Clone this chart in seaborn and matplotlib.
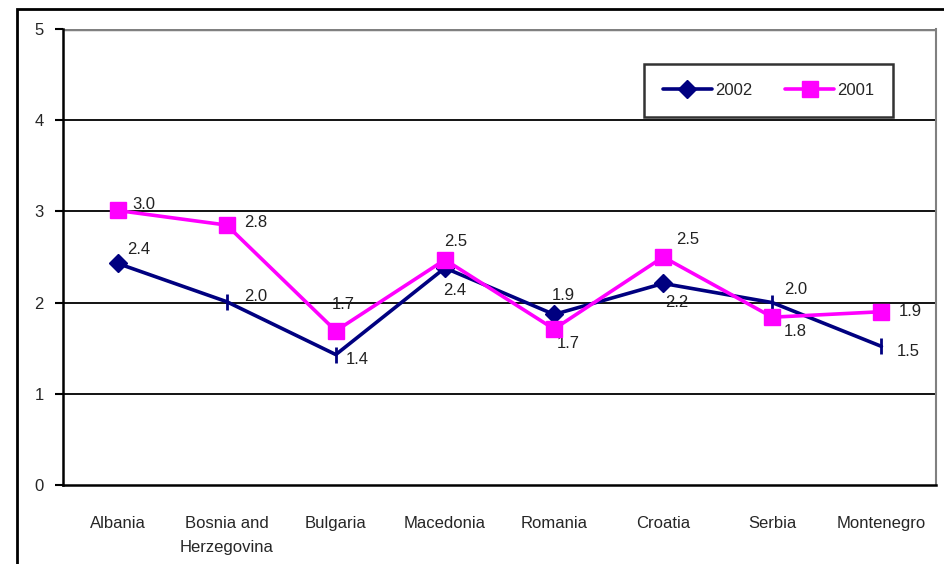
import matplotlib
matplotlib.use("Agg")
import matplotlib.pyplot as plt
from matplotlib.lines import Line2D
from matplotlib.patches import Rectangle
import numpy as np
import pandas as pd
import seaborn as sns

countries = ["Albania", "Bosnia and\nHerzegovina", "Bulgaria", "Macedonia",
             "Romania", "Croatia", "Serbia", "Montenegro"]
vals_2002 = [2.43, 2.01, 1.43, 2.38, 1.87, 2.21, 2.0, 1.52]
vals_2001 = [3.01, 2.85, 1.69, 2.47, 1.71, 2.50, 1.84, 1.90]
labels_2002 = ["2.4", "2.0", "1.4", "2.4", "1.9", "2.2", "2.0", "1.5"]
labels_2001 = ["3.0", "2.8", "1.7", "2.5", "1.7", "2.5", "1.8", "1.9"]
# 2002 points drawn with a diamond (others with a vertical dash)
diamond_2002 = [True, False, False, True, True, True, False, False]

# label offsets in pixels (dx to left edge, dy up)
off_2002 = [(10, 14), (17, 5), (10, -5), (-2, -23), (-2, 19), (2, -19), (12, 13), (15, -5)]
off_2001 = [(15, 6), (17, 3), (-4, 26), (-1, 18), (3, -14), (13, 17), (11, -14), (17, 0)]

sns.set_style("white")
plt.rcParams["font.family"] = ["Liberation Sans Narrow", "Liberation Sans", "DejaVu Sans"]

NAVY = "#000080"
MAGENTA = "#FF00FF"
FS = 12

df = pd.DataFrame({"country": countries, "y2002": vals_2002, "y2001": vals_2001})
df["pos"] = np.arange(len(countries))

W, H = 944, 564
fig = plt.figure(figsize=(W / 100, H / 100), dpi=100)
ax = fig.add_axes([63 / W, 1 - 485 / H, (936 - 63) / W, (485 - 29) / H])

sns.lineplot(data=df, x="pos", y="y2002", ax=ax, color=NAVY, lw=2.6, zorder=4)
sns.lineplot(data=df, x="pos", y="y2001", ax=ax, color=MAGENTA, lw=2.6, zorder=5)

d = df[diamond_2002]
v = df[[not b for b in diamond_2002]]
ax.plot(d["pos"], d["y2002"], ls="none", marker="D", ms=9, color=NAVY, zorder=4)
ax.plot(v["pos"], v["y2002"], ls="none", marker="|", ms=12, mew=2, color=NAVY, zorder=4)
ax.plot(df["pos"], df["y2001"], ls="none", marker="s", ms=11.5, color=MAGENTA, zorder=5)

for i in range(len(countries)):
    ax.annotate(labels_2002[i], (i, vals_2002[i]), xytext=off_2002[i],
                textcoords="offset pixels", ha="left", va="center",
                fontsize=FS, color="#222222", zorder=3)
    ax.annotate(labels_2001[i], (i, vals_2001[i]), xytext=off_2001[i],
                textcoords="offset pixels", ha="left", va="center",
                fontsize=FS, color="#222222", zorder=3)

ax.set_xlim(-0.5, len(countries) - 0.5)
ax.set_ylim(0, 5)
ax.set_xlabel("")
ax.set_ylabel("")

ax.set_yticks([0, 1, 2, 3, 4, 5])
ax.set_yticklabels(["0", "1", "2", "3", "4", "5"], fontsize=FS)
for yv in [1, 2, 3, 4]:
    ax.axhline(yv, color="black", lw=1.3, zorder=1)
ax.axhline(5, color="#808080", lw=2.5, zorder=1)

ax.set_xticks(df["pos"])
ax.set_xticklabels(countries, fontsize=FS, linespacing=1.75, va="top")
ax.set_xticks(np.arange(len(countries) + 1) - 0.5, minor=True)
ax.tick_params(axis="x", which="major", length=0, pad=22)
ax.tick_params(axis="x", which="minor", length=6, width=1.5, direction="out", color="black")
ax.tick_params(axis="y", length=6, width=1.5, direction="out", color="black", pad=8, left=True)

for s in ["left", "bottom"]:
    ax.spines[s].set_color("black")
    ax.spines[s].set_linewidth(1.8)
ax.spines["top"].set_visible(False)
ax.spines["right"].set_color("#808080")
ax.spines["right"].set_linewidth(1.5)

handles = [
    Line2D([], [], color=NAVY, lw=2.6, marker="D", ms=9),
    Line2D([], [], color=MAGENTA, lw=2.6, marker="s", ms=11.5),
]
leg = ax.legend(handles, ["2002", "2001"], ncol=2, loc="upper left",
                bbox_to_anchor=((644 - 63) / (936 - 63), 1 - (64 - 29) / (485 - 29)),
                fontsize=FS, frameon=True, fancybox=False, edgecolor="black",
                handlelength=2.9, handletextpad=0.2, columnspacing=2.0,
                borderpad=1.15, borderaxespad=0)
leg.get_frame().set_linewidth(1.8)

# outer chart border
fig.patches.append(Rectangle((17 / W, -0.05), 1.2, 1 - 9 / H + 0.05,
                             transform=fig.transFigure, fill=False,
                             edgecolor="black", lw=2))

fig.savefig("out.png", dpi=100)
